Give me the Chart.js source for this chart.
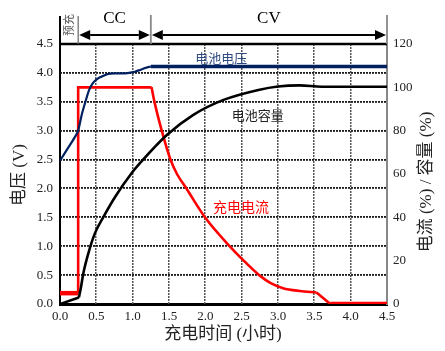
<!DOCTYPE html>
<html>
<head>
<meta charset="utf-8">
<script src="https://cdn.jsdelivr.net/npm/chart.js@4.4.0/dist/chart.umd.min.js"></script>
<style>body{margin:0;background:#fff}</style>
</head>
<body>
<canvas id="plot" width="445" height="351"></canvas>
<script>
// datos
const voltageTime = [0, 0.1, 0.2, 0.25, 0.3, 0.35, 0.4, 0.45, 0.53, 0.6, 0.66, 0.75, 0.85, 0.95, 1.03, 1.12, 1.25, 4.5];
const voltageValue = [2.48, 2.68, 2.88, 3.0, 3.28, 3.5, 3.7, 3.82, 3.91, 3.95, 3.98, 3.99, 3.99, 4.0, 4.02, 4.06, 4.11, 4.11];

const capacityTime = [0, 0.26, 0.29, 0.32, 0.39, 0.48, 0.6, 0.76, 1.0, 1.1, 1.47, 1.83, 2.25, 2.73, 3.0, 3.3, 3.6, 4.5];
const capacityValue = [0, 3, 8, 14, 23.4, 32.6, 40.3, 49.5, 61, 65, 78, 87.2, 94.2, 98.8, 100.4, 100.9, 100.3, 100.3];

const currentTime = [0, 0.25, 0.25, 1.26, 1.3, 1.4, 1.52, 1.61, 1.74, 2.0, 2.34, 2.55, 2.75, 2.9, 3.07, 3.3, 3.53, 3.72, 4.5];
const currentValue = [5, 5, 100, 100, 93.3, 80, 66.7, 60, 53.3, 39.8, 26.5, 19.3, 13.1, 9.6, 7.3, 6, 5.3, 0, 0];

const phaseEdges = [0.25, 1.25, 4.5];
const phaseNames = ["CC", "CV"];

const serif = '"Liberation Serif", "Noto Sans CJK SC", serif';
const cjk = '"Noto Sans CJK SC", sans-serif';

let toPoints = (xs, ys, from, to) =>
  xs.slice(from, to).map((v, i) => ({ x: v, y: ys.slice(from, to)[i] }));

let drawArrow = (ctx, x1, x2, yy) => {
  let len = 11, half = 5;
  ctx.beginPath();
  ctx.moveTo(x1 + len, yy);
  ctx.lineTo(x2 - len, yy);
  ctx.stroke();
  ctx.beginPath();
  ctx.moveTo(x1, yy);
  ctx.lineTo(x1 + len, yy - half);
  ctx.lineTo(x1 + len, yy + half);
  ctx.closePath();
  ctx.fill();
  ctx.beginPath();
  ctx.moveTo(x2, yy);
  ctx.lineTo(x2 - len, yy - half);
  ctx.lineTo(x2 - len, yy + half);
  ctx.closePath();
  ctx.fill();
};

// rejilla punteada hecha a mano
let grilla = {
  id: "grilla",
  beforeDatasetsDraw(chart) {
    let ctx = chart.ctx;
    let a = chart.chartArea;
    let sx = chart.scales.x, sy = chart.scales.y;
    ctx.save();
    ctx.fillStyle = "#555";
    sx.ticks.forEach((t) => {
      if (t.value <= 0 || t.value >= 4.5) return;
      let p = Math.round(sx.getPixelForValue(t.value));
      for (let yy = a.top; yy < a.bottom; yy += 3) ctx.fillRect(p - 1, yy, 1.5, 2);
    });
    ctx.fillStyle = "#1a1a1a";
    sy.ticks.forEach((t) => {
      if (t.value <= 0 || t.value >= 4.5) return;
      let p = Math.round(sy.getPixelForValue(t.value));
      for (let xx = a.left; xx < a.right; xx += 3) ctx.fillRect(xx, p - 1, 2, 1.8);
    });
    // linea superior solida
    ctx.strokeStyle = "#000";
    ctx.lineWidth = 2.5;
    ctx.beginPath();
    ctx.moveTo(a.left, a.top);
    ctx.lineTo(a.right, a.top);
    ctx.stroke();
    ctx.restore();
  },
};

let extras = {
  id: "extras",
  afterDraw(chart) {
    let ctx = chart.ctx;
    let sx = chart.scales.x, sy = chart.scales.y;
    let top = chart.chartArea.top;
    let px = phaseEdges.map((v) => sx.getPixelForValue(v));
    let left = sx.getPixelForValue(0);
    ctx.save();

    // lineas verticales de la cabecera
    ctx.strokeStyle = "#000";
    ctx.lineWidth = 2;
    ctx.beginPath(); ctx.moveTo(left, 16); ctx.lineTo(left, top); ctx.stroke();
    ctx.strokeStyle = "#666";
    ctx.lineWidth = 1.2;
    ctx.beginPath(); ctx.moveTo(px[0], 16); ctx.lineTo(px[0], top); ctx.stroke();
    ctx.strokeStyle = "#888";
    ctx.lineWidth = 1.8;
    ctx.beginPath(); ctx.moveTo(px[1], 15); ctx.lineTo(px[1], top); ctx.stroke();
    ctx.beginPath(); ctx.moveTo(px[2], 15); ctx.lineTo(px[2], top); ctx.stroke();

    // flechas
    ctx.strokeStyle = "#000";
    ctx.fillStyle = "#000";
    ctx.lineWidth = 2.2;
    drawArrow(ctx, px[0] + 1, px[1] - 1, 35);
    drawArrow(ctx, px[1] + 1, px[2] - 1, 35);

    ctx.textAlign = "center";
    ctx.textBaseline = "middle";
    ctx.font = "17px " + serif;
    ctx.fillText(phaseNames[0], (px[0] + px[1]) / 2, 19);
    ctx.fillText(phaseNames[1], (px[1] + px[2]) / 2, 19);

    // texto vertical 预充
    ctx.fillStyle = "#555";
    ctx.font = "11px " + cjk;
    ctx.save();
    ctx.translate((left + px[0]) / 2, 25);
    ctx.rotate(-Math.PI / 2);
    ctx.fillText("预充", 0, 0);
    ctx.restore();

    // titulos de ejes
    ctx.fillStyle = "#222";
    ctx.font = "17px " + serif;
    ctx.fillText("充电时间 (小时)", 223, 335);
    ctx.save();
    ctx.translate(20, 175);
    ctx.rotate(-Math.PI / 2);
    ctx.fillText("电压 (V)", 0, 0);
    ctx.restore();
    ctx.save();
    ctx.translate(427, 182);
    ctx.rotate(-Math.PI / 2);
    ctx.fillText("电流 (%) / 容量 (%)", 0, 0);
    ctx.restore();

    // etiquetas de las series
    ctx.font = "13px " + cjk;
    ctx.fillStyle = "#2e4a80";
    ctx.fillText("电池电压", sx.getPixelForValue(2.22), sy.getPixelForValue(4.26));
    ctx.fillStyle = "#222";
    ctx.fillText("电池容量", sx.getPixelForValue(2.72), sy.getPixelForValue(3.27));
    ctx.font = "14px " + cjk;
    ctx.fillStyle = "#ff0000";
    ctx.fillText("充电电流", sx.getPixelForValue(2.49), sy.getPixelForValue(1.68));
    ctx.restore();
  },
};

let tickFont = { family: serif, size: 13 };
let redThick = (c) => (c.p0.parsed.y <= 5.1 && c.p1.parsed.y <= 5.1 ? 4.5 : 2.6);

let config = {
  type: "line",
  data: {
    datasets: [
      {
        label: "电池电压",
        data: toPoints(voltageTime, voltageValue),
        yAxisID: "y",
        borderColor: "#002060",
        borderWidth: 2.2,
        cubicInterpolationMode: "monotone",
        pointRadius: 0,
        segment: {
          borderWidth: (c) => (c.p0.parsed.x >= 1.25 ? 3.5 : 2.2),
        },
      },
      {
        label: "电池容量",
        data: toPoints(capacityTime, capacityValue, 0, 2),
        yAxisID: "y1",
        borderColor: "#000",
        borderWidth: 2.6,
        tension: 0,
        pointRadius: 0,
      },
      {
        label: "电池容量",
        data: toPoints(capacityTime, capacityValue, 1),
        yAxisID: "y1",
        borderColor: "#000",
        borderWidth: 2.6,
        cubicInterpolationMode: "monotone",
        pointRadius: 0,
      },
      {
        label: "充电电流",
        data: toPoints(currentTime, currentValue, 0, 4),
        yAxisID: "y1",
        borderColor: "#ff0000",
        borderWidth: 2.6,
        tension: 0,
        pointRadius: 0,
        segment: { borderWidth: redThick },
      },
      {
        label: "充电电流",
        data: toPoints(currentTime, currentValue, 3, 17),
        yAxisID: "y1",
        borderColor: "#ff0000",
        borderWidth: 2.6,
        cubicInterpolationMode: "monotone",
        pointRadius: 0,
      },
      {
        label: "充电电流",
        data: toPoints(currentTime, currentValue, 16),
        yAxisID: "y1",
        borderColor: "#ff0000",
        borderWidth: 2.6,
        tension: 0,
        pointRadius: 0,
        segment: { borderWidth: redThick },
      },
    ],
  },
  options: {
    responsive: false,
    animation: false,
    layout: { padding: { top: 44, left: 0, right: 0, bottom: 0 } },
    plugins: { legend: { display: false }, tooltip: { enabled: false } },
    scales: {
      x: {
        type: "linear",
        min: 0,
        max: 4.5,
        afterFit: (s) => { s.height = 47; },
        ticks: { stepSize: 0.5, padding: 5, color: "#222", font: tickFont, callback: (v) => v.toFixed(1) },
        grid: { display: false, drawTicks: false },
        border: { display: true, color: "#000", width: 3 },
      },
      y: {
        position: "left",
        min: 0,
        max: 4.5,
        afterFit: (s) => { s.width = 60; },
        ticks: { stepSize: 0.5, padding: 7, color: "#222", font: tickFont, callback: (v) => v.toFixed(1) },
        grid: { display: false, drawTicks: false },
        border: { display: true, color: "#000", width: 2 },
      },
      y1: {
        position: "right",
        min: 0,
        max: 120,
        afterFit: (s) => { s.width = 58; },
        ticks: { stepSize: 20, padding: 6, color: "#222", font: tickFont },
        grid: { display: false, drawTicks: false },
        border: { display: true, color: "#888", width: 2 },
      },
    },
  },
  plugins: [grilla, extras],
};

let chart = new Chart(document.getElementById("plot"), config);
</script>
</body>
</html>
